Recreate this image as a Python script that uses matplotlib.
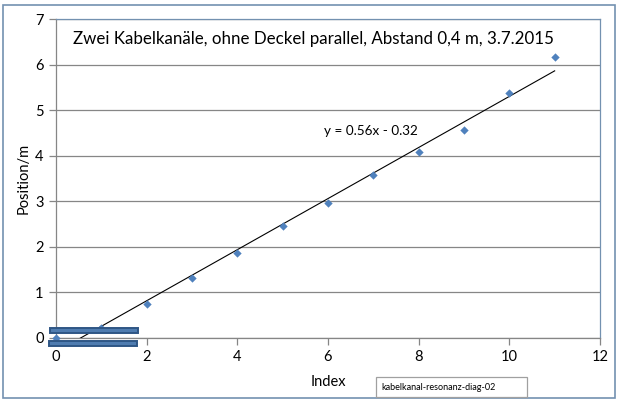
import numpy as np
import matplotlib
matplotlib.use("Agg")
import matplotlib.pyplot as plt
from matplotlib.patches import Rectangle

plt.rcParams['font.family'] = ['Lato', 'DejaVu Sans']

index = [0, 1, 2, 3, 4, 5, 6, 7, 8, 9, 10, 11]
position = [0.0, 0.22, 0.735, 1.31, 1.85, 2.46, 2.96, 3.57, 4.07, 4.57, 5.37, 6.17]
x_ticks = [0, 2, 4, 6, 8, 10, 12]
y_ticks = [0, 1, 2, 3, 4, 5, 6, 7]
title = "Zwei Kabelkanäle, ohne Deckel parallel, Abstand 0,4 m, 3.7.2015"
equation = "y = 0.56x - 0.32"
tag = "kabelkanal-resonanz-diag-02"

W, H = 624, 407
fig = plt.figure(figsize=(W / 100, H / 100), dpi=100)
fig.patch.set_facecolor('white')

def fx(px):
    return px / W

def fy(py):
    return 1 - py / H

# outer chart border
border = Rectangle((fx(3), fy(398)), fx(615) - fx(3), fy(5) - fy(398),
                   transform=fig.transFigure, fill=False, edgecolor='#7391b0',
                   linewidth=1.2, zorder=0)
fig.patches.append(border)

ax = fig.add_axes([fx(56), fy(337.6), fx(600) - fx(56), fy(19) - fy(337.6)])
ax.set_xlim(0, 12)
ax.set_ylim(0, 7)

gray = '#868686'
ax.set_xticks(x_ticks)
ax.set_yticks(y_ticks)
ax.yaxis.grid(True, color=gray, linewidth=0.9)
ax.set_axisbelow(True)
for s in ['left', 'bottom']:
    ax.spines[s].set_color(gray)
    ax.spines[s].set_linewidth(0.9)
for s in ['top', 'right']:
    ax.spines[s].set_color('#7391b0')
    ax.spines[s].set_linewidth(0.9)
ax.tick_params(direction='out', length=5, width=0.9, color=gray,
               labelsize=10.5, labelcolor='black', pad=4)

# trend line
m, b = np.polyfit(index, position, 1)
xl = np.array([0, 11])
ax.plot(xl, m * xl + b, color='black', linewidth=0.8, zorder=3)

ax.scatter(index, position, marker='D', s=18, color='#4f81bd', zorder=4,
           clip_on=False, linewidths=0)

ax.text(0.38, 6.55, title, fontsize=12.2, va='center', ha='left')
ax.text(5.92, 4.55, equation, fontsize=9.7, va='center', ha='left')

ax.set_xlabel("Index", fontsize=10.5, labelpad=8)
ax.set_ylabel("Position/m", fontsize=10.5, labelpad=3)

# cable duct shapes
for (x0, y0, x1, y1) in [(50, 328, 138, 333), (49, 341, 137, 346)]:
    r = Rectangle((fx(x0), fy(y1)), fx(x1) - fx(x0), fy(y0) - fy(y1),
                  transform=fig.transFigure, facecolor='#4f7cb0',
                  edgecolor='#2f5685', linewidth=1.4, zorder=10)
    fig.patches.append(r)

# tag box
tb = Rectangle((fx(376), fy(397)), fx(527) - fx(376), fy(377) - fy(397),
               transform=fig.transFigure, facecolor='white',
               edgecolor='#a0a0a0', linewidth=0.9, zorder=10)
fig.patches.append(tb)
fig.text(fx(381), fy(388), tag, fontsize=6.5, va='center', ha='left', zorder=11)

fig.savefig("out.png", dpi=100)
